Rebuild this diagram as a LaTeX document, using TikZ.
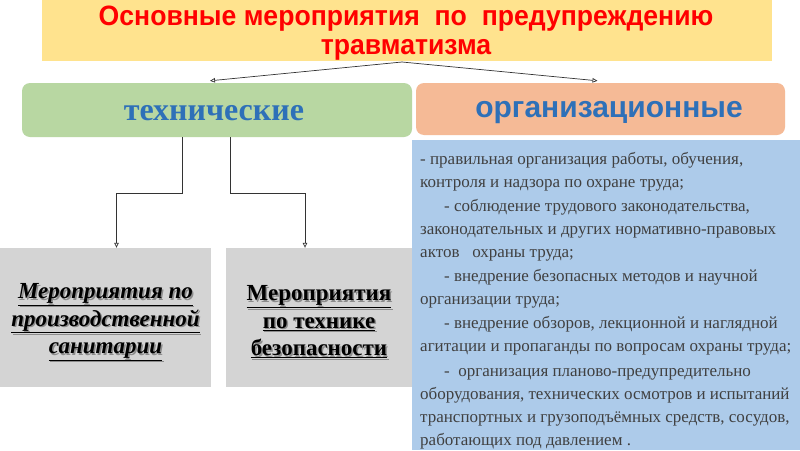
\documentclass[tikz,border=0pt]{standalone}
\usepackage{fontspec}
\setmainfont{Liberation Serif}
\setsansfont{Liberation Sans}
\usetikzlibrary{arrows.meta}
\definecolor{ttlfill}{HTML}{FFE38E}
\definecolor{techfill}{HTML}{B8D7A2}
\definecolor{orgfill}{HTML}{F5BA96}
\definecolor{listfill}{HTML}{ADCBEA}
\definecolor{grayfill}{HTML}{D4D4D4}
\definecolor{hdblue}{HTML}{2E70B8}
\definecolor{bodytxt}{HTML}{404040}
\definecolor{ttlred}{HTML}{FF0000}
\tikzset{
  plainbox/.style={inner sep=0pt, align=center},
  arr/.style={draw=black!80, line width=0.7pt, -{Triangle[open,length=5pt,width=4.5pt]}},
  bodyline/.style={anchor=base west, inner sep=0pt, text=bodytxt, font=\fontsize{17}{20}\selectfont},
  grtext/.style={align=center, inner sep=0pt, font=\bfseries\fontsize{23}{27.5}\selectfont},
}
\begin{document}
\begin{tikzpicture}[x=1pt,y=-1pt]
\useasboundingbox (0,0) rectangle (800,450);
\fill[white] (0,0) rectangle (800,450);

% list box
\node[plainbox, fill=listfill, minimum width=388pt, minimum height=310pt] (list) at (606,295) {};

% title
\node[plainbox, fill=ttlfill, minimum width=730pt, minimum height=61pt] (title) at (407,30.5) {};
\node[plainbox, text=ttlred, font=\sffamily\bfseries\fontsize{28}{29.5}\selectfont] (ttltext) at (406,33)
  {\scalebox{0.95}[1]{Основные мероприятия~~по~~предупреждению}\\\scalebox{0.95}[1]{травматизма}};

% category boxes
\node[plainbox, fill=techfill, rounded corners=8pt, minimum width=390pt, minimum height=54pt] (tech) at (217,110) {};
\node[plainbox, text=hdblue, font=\bfseries\fontsize{32}{34}\selectfont] (techtext) at (214,113) {технические};
\node[plainbox, fill=orgfill, rounded corners=8pt, minimum width=369pt, minimum height=52pt] (org) at (600.5,109) {};
\node[plainbox, text=hdblue, font=\sffamily\bfseries\fontsize{30}{32}\selectfont] (orgtext) at (609,113) {организационные};

% gray boxes
\node[plainbox, fill=grayfill, minimum width=211pt, minimum height=139pt] (g1) at (105.5,317.5) {};
\node[plainbox, fill=grayfill, minimum width=186pt, minimum height=139pt] (g2) at (319,317.5) {};

\node[grtext, text=black!45] (g1s) at (105.5+1.5,322+1.5) {\itshape\underline{Мероприятия по}\\\itshape\underline{производственной}\\\itshape\underline{санитарии}};
\node[grtext] (g1t) at (105.5,322) {\itshape\underline{Мероприятия по}\\\itshape\underline{производственной}\\\itshape\underline{санитарии}};
\node[grtext, text=black!45] (g2s) at (319+1.5,322+1.5) {\underline{Мероприятия}\\\underline{по технике}\\\underline{безопасности}};
\node[grtext] (g2t) at (319,322) {\underline{Мероприятия}\\\underline{по технике}\\\underline{безопасности}};

% arrows from title
\coordinate (ts) at (402,62);
\draw[arr] (ts) -- ([xshift=-7pt,yshift=2pt]tech.north);
\draw[arr] (ts) -- ([xshift=-3pt,yshift=2pt]org.north);

% connectors from tech
\draw[arr] ([xshift=-35pt]tech.south) -- ++(0,56) -| ([xshift=11pt]g1.north);
\draw[arr] ([xshift=13pt]tech.south) -- ++(0,56) -| ([xshift=-14pt]g2.north);

% list text
\node[bodyline] (l1) at (420,164) {- правильная организация работы, обучения,};
\node[bodyline] (l2) at (420,187) {контроля и надзора по охране труда;};
\node[bodyline] (l3) at (420,211) {\hspace*{24pt}- соблюдение трудового законодательства,};
\node[bodyline] (l4) at (420,234) {законодательных и других нормативно-правовых};
\node[bodyline] (l5) at (420,257) {актов~~~охраны труда;};
\node[bodyline] (l6) at (420,281) {\hspace*{24pt}- внедрение безопасных методов и научной};
\node[bodyline] (l7) at (420,304) {организации труда;};
\node[bodyline] (l8) at (420,328) {\hspace*{24pt}- внедрение обзоров, лекционной и наглядной};
\node[bodyline] (l9) at (420,351) {агитации и пропаганды по вопросам охраны труда;};
\node[bodyline] (l10) at (420,376) {\hspace*{24pt}-~~организация планово-предупредительно};
\node[bodyline] (l11) at (420,399) {оборудования, технических осмотров и испытаний};
\node[bodyline] (l12) at (420,422) {транспортных и грузоподъёмных средств, сосудов,};
\node[bodyline] (l13) at (420,445) {работающих под давлением .};
\end{tikzpicture}
\end{document}
